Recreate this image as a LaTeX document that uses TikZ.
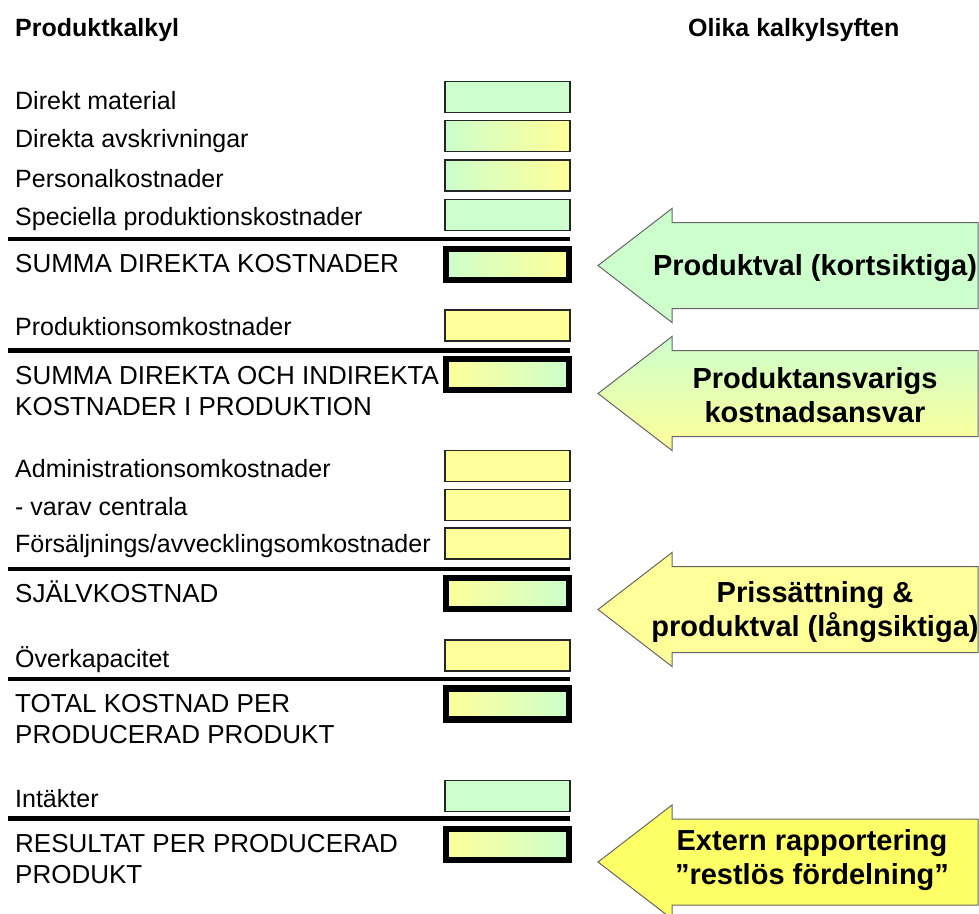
\documentclass[tikz,border=0pt]{standalone}
\usepackage{fontspec}
\setmainfont{Liberation Sans}
\usetikzlibrary{positioning}
\definecolor{ljusgron}{HTML}{CCFFCC}
\definecolor{ljusgul}{HTML}{FFFF99}
\definecolor{starkgul}{HTML}{FFFF66}
\newcommand{\kalkylpil}[2]{\draw[pil,#2] (598,#1) -- (672,#1-57) -- (672,#1-43) -- (978,#1-43) -- (978,#1+43) -- (672,#1+43) -- (672,#1+57) -- cycle;}
\begin{document}
\begin{tikzpicture}[x=1pt,y=-1pt,
  post/.style={anchor=base west, inner sep=0pt, align=left, font=\fontsize{25}{30.5}\selectfont},
  summapost/.style={post, font=\fontsize{26}{30.5}\selectfont},
  rubrik/.style={anchor=base west, inner sep=0pt, font=\fontsize{25}{30}\selectfont\bfseries},
  ruta/.style={draw=black!85, line width=1.5pt, minimum width=125pt, minimum height=31pt, inner sep=0pt},
  summa/.style={draw=black, line width=6.5pt, minimum width=123pt, minimum height=31pt, inner sep=0pt},
  linje/.style={line width=4.5pt},
  pil/.style={draw=black!60, line width=1pt},
  piltext/.style={align=center, inner sep=0pt, font=\fontsize{29}{34}\selectfont\bfseries}]
\useasboundingbox (0,0) rectangle (979,913);
\clip (0,0) rectangle (979,913);
% rubriker
\node (kalkyl) [rubrik] at (15,36) {Produktkalkyl};
\node (syften) [rubrik] at (688,36) {Olika kalkylsyften};
% direkta kostnader
\node (dm) [post] at (15,109) {Direkt material};
\node (dmr) [ruta, fill=ljusgron] at (507.5,97) {};
\node (da) [post] at (15,147) {Direkta avskrivningar};
\node (dar) [ruta, left color=ljusgron, right color=ljusgul] at (507.5,136) {};
\node (pk) [post] at (15,187) {Personalkostnader};
\node (pkr) [ruta, left color=ljusgron, right color=ljusgul] at (507.5,175.5) {};
\node (sp) [post] at (15,225) {Speciella produktionskostnader};
\node (spr) [ruta, fill=ljusgron] at (507.5,215) {};
\draw[linje] (8,239) -- (570,239);
\node (sdk) [summapost] at (15,272) {SUMMA DIREKTA KOSTNADER};
\node (sdkr) [summa, left color=ljusgron, right color=ljusgul] at (507.5,264.5) {};
% indirekta kostnader
\node (po) [post] at (15,335) {Produktionsomkostnader};
\node (por) [ruta, fill=ljusgul] at (507.5,325.5) {};
\draw[linje] (8,350.5) -- (570,350.5);
\node (sdi) [summapost] at (15,415) {SUMMA DIREKTA OCH INDIREKTA\\KOSTNADER I PRODUKTION};
\node (sdir) [summa, left color=ljusgul, right color=ljusgron] at (507.5,374.5) {};
\node (ao) [post] at (15,477) {Administrationsomkostnader};
\node (aor) [ruta, fill=ljusgul] at (507.5,466) {};
\node (vc) [post] at (15,515) {- varav centrala};
\node (vcr) [ruta, fill=ljusgul] at (507.5,505) {};
\node (fa) [post] at (15,552) {Försäljnings/avvecklingsomkostnader};
\node (far) [ruta, fill=ljusgul] at (507.5,543.5) {};
\draw[linje] (8,569) -- (570,569);
\node (sk) [summapost] at (15,602) {SJÄLVKOSTNAD};
\node (skr) [summa, left color=ljusgul, right color=ljusgron] at (507.5,593.5) {};
\node (ok) [post] at (15,667) {Överkapacitet};
\node (okr) [ruta, fill=ljusgul] at (507.5,655.5) {};
\draw[linje] (8,679) -- (570,679);
\node (tk) [summapost] at (15,743) {TOTAL KOSTNAD PER\\PRODUCERAD PRODUKT};
\node (tkr) [summa, left color=ljusgul, right color=ljusgron] at (507.5,704) {};
\node (it) [post] at (15,807) {Intäkter};
\node (itr) [ruta, fill=ljusgron] at (507.5,796) {};
\draw[linje] (8,818.5) -- (570,818.5);
\node (res) [summapost] at (15,883) {RESULTAT PER PRODUCERAD\\PRODUKT};
\node (resr) [summa, left color=ljusgul, right color=ljusgron] at (507.5,844.5) {};
% pilar
\kalkylpil{265.5}{fill=ljusgron}
\kalkylpil{393.5}{top color=ljusgron, bottom color=ljusgul}
\kalkylpil{609.5}{fill=ljusgul}
\kalkylpil{862}{fill=starkgul}
\node (kort) [piltext] at (815,268) {Produktval (kortsiktiga)};
\node (ansvar) [piltext] at (815,395) {Produktansvarigs\\kostnadsansvar};
\node (lang) [piltext] at (815,612) {Prissättning \&\\produktval (långsiktiga)};
\node (extern) [piltext] at (812,860) {Extern rapportering\\”restlös fördelning”};
\end{tikzpicture}
\end{document}
